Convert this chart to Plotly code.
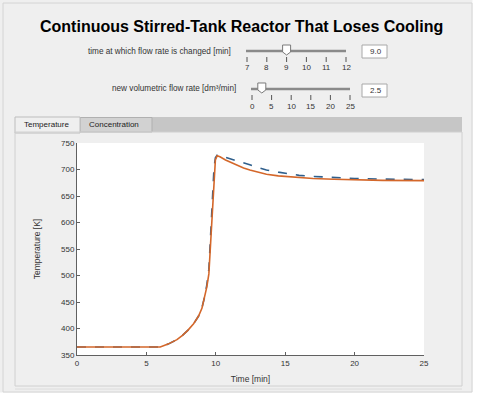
import plotly.graph_objects as go

# ---------------- data ----------------
title_text = "Continuous Stirred-Tank Reactor That Loses Cooling"
slider1_label = "time at which flow rate is changed [min]"
slider1_ticks = [7, 8, 9, 10, 11, 12]
slider1_value = 9.0
slider2_label = "new volumetric flow rate [dm³/min]"
slider2_ticks = [0, 5, 10, 15, 20, 25]
slider2_value = 2.5
tab_labels = ["Temperature", "Concentration"]

time_min = [0, 6.0, 6.6, 7.2, 7.6, 8.0, 8.4, 8.75, 9.0, 9.2, 9.35, 9.5, 9.63, 9.77,
            9.87, 9.97, 10.1, 10.3, 10.7, 11.25, 12.0, 12.45, 13.0, 13.65, 14.5,
            16.0, 17.0, 18.5, 20.0, 22.0, 25.0]
temp_solid = [365, 365, 371, 379, 387, 397, 409, 423, 438, 458, 478, 503, 565, 632,
              690, 718, 726, 724, 718, 711, 703, 699, 695, 691, 688,
              684.5, 683, 681.5, 680.5, 679.5, 679]
temp_dashed = [365, 365, 371, 379, 387, 397, 409, 423, 439, 460, 482, 512, 578, 645,
               703, 722, 727, 726, 723, 718, 712, 709, 704, 699, 695,
               689, 687, 684.5, 683, 682, 681]

x_ticks = [0, 5, 10, 15, 20, 25]
y_ticks = [350, 400, 450, 500, 550, 600, 650, 700, 750]

# ---------------- layout helpers ----------------
W, H = 478, 397
L, R, T, B = 77, 424, 143, 355
FONT = "Liberation Sans, Arial, sans-serif"


def px(x):
    return (x - L) / (R - L)


def py(y):
    return (B - y) / (B - T)


shapes = []
annotations = []


def rect(x0, y0, x1, y1, fill=None, line=None, lw=1):
    shapes.append(dict(type="rect", xref="paper", yref="paper",
                       x0=px(x0), x1=px(x1), y0=py(y0), y1=py(y1),
                       fillcolor=fill if fill else "rgba(0,0,0,0)",
                       line=dict(color=line if line else "rgba(0,0,0,0)", width=lw if line else 0),
                       layer="below"))


def seg(x0, y0, x1, y1, color, lw=1):
    shapes.append(dict(type="line", xref="paper", yref="paper",
                       x0=px(x0), x1=px(x1), y0=py(y0), y1=py(y1),
                       line=dict(color=color, width=lw), layer="below"))


def text(x, y, s, size=8, color="#333333", xanchor="center", bold=False):
    annotations.append(dict(xref="paper", yref="paper", x=px(x), y=py(y),
                            text=f"<b>{s}</b>" if bold else s, showarrow=False,
                            xanchor=xanchor, yanchor="middle",
                            font=dict(family=FONT, size=size, color=color)))


# outer white margins
rect(472.5, 0, 478, 397, fill="white")
rect(0, 392.5, 478, 397, fill="white")
# outer frame
rect(3, 3, 472, 392, line="#d4d4d4")

# title
text(241, 26, title_text, size=16, color="#000000", bold=True)

# slider 1
s1x0, s1x1, s1y = 247, 346, 51
seg(s1x0 - 1, s1y, s1x1, s1y, "#8a8a8a", 2.5)
for v in slider1_ticks:
    xx = s1x0 + (v - slider1_ticks[0]) / (slider1_ticks[-1] - slider1_ticks[0]) * (s1x1 - s1x0)
    seg(xx, 57, xx, 62, "#555555", 1)
    text(xx, 68, str(v), size=8)
text(233, 51, slider1_label, size=8.2, xanchor="right")
rect(362, 45, 387, 58, fill="white", line="#a8a8a8")
text(368, 51.5, f"{slider1_value:.1f}", size=8, xanchor="left")

# slider 2
s2x0, s2x1, s2y = 252, 350, 89
seg(s2x0 - 1, s2y, s2x1, s2y, "#8a8a8a", 2.5)
for v in slider2_ticks:
    xx = s2x0 + (v - slider2_ticks[0]) / (slider2_ticks[-1] - slider2_ticks[0]) * (s2x1 - s2x0)
    seg(xx, 95, xx, 100, "#555555", 1)
    text(xx, 106, str(v), size=8)
text(238, 89, slider2_label, size=8.2, xanchor="right")
rect(362, 84, 387, 97, fill="white", line="#a8a8a8")
text(368, 90.5, f"{slider2_value:.1f}", size=8, xanchor="left")


def thumb(cx, cy):
    pts = [(cx - 4, cy - 6), (cx + 4, cy - 6), (cx + 4, cy + 1), (cx, cy + 4), (cx - 4, cy + 1)]
    path = "M " + " L ".join(f"{px(a):.5f},{py(b):.5f}" for a, b in pts) + " Z"
    shapes.append(dict(type="path", xref="paper", yref="paper", path=path,
                       fillcolor="white", line=dict(color="#7a7a7a", width=1), layer="below"))


thumb(s1x0 + (slider1_value - slider1_ticks[0]) / (slider1_ticks[-1] - slider1_ticks[0]) * (s1x1 - s1x0), s1y)
thumb(s2x0 + (slider2_value - slider2_ticks[0]) / (slider2_ticks[-1] - slider2_ticks[0]) * (s2x1 - s2x0), s2y)

# tabs
rect(15, 117, 462, 132, fill="#c6c6c6")
rect(80, 117.5, 152, 132, fill="#d2d2d2", line="#b0b0b0")
rect(15, 117, 80, 133, fill="#efefef", line="#bdbdbd")
text(22, 124.5, tab_labels[0], size=8, xanchor="left", color="#222222")
text(87, 124.5, tab_labels[1], size=8, xanchor="left", color="#222222")
# tab panel
rect(15, 132, 462, 386, line="#d0d0d0")
seg(15, 389, 462, 389, "#dcdcdc", 1)

fig = go.Figure()
fig.add_trace(go.Scatter(x=time_min, y=temp_dashed, mode="lines",
                         line=dict(color="#2f5f8c", width=1.6, dash="dash")))
fig.add_trace(go.Scatter(x=time_min, y=temp_solid, mode="lines",
                         line=dict(color="#d4672a", width=1.6)))

axis_common = dict(showgrid=False, zeroline=False, showline=True, linecolor="#606060",
                   linewidth=1, ticks="inside", ticklen=3, tickcolor="#606060",
                   tickfont=dict(family=FONT, size=8, color="#333333"))
fig.update_layout(
    width=W, height=H,
    margin=dict(l=L, r=W - R, t=T, b=H - B, pad=0),
    paper_bgcolor="#efefef", plot_bgcolor="white",
    showlegend=False,
    shapes=shapes, annotations=annotations,
    xaxis=dict(range=[0, 25], tickvals=x_ticks, title=dict(text="Time [min]", standoff=9,
               font=dict(family=FONT, size=8.5, color="#333333")), **axis_common),
    yaxis=dict(range=[350, 750], tickvals=y_ticks, title=dict(text="Temperature [K]", standoff=19,
               font=dict(family=FONT, size=8.5, color="#333333")), **axis_common),
)
fig.write_html("out.html", config={"displayModeBar": False},
               post_script="document.body.style.margin='0';document.body.style.overflow='hidden';")
